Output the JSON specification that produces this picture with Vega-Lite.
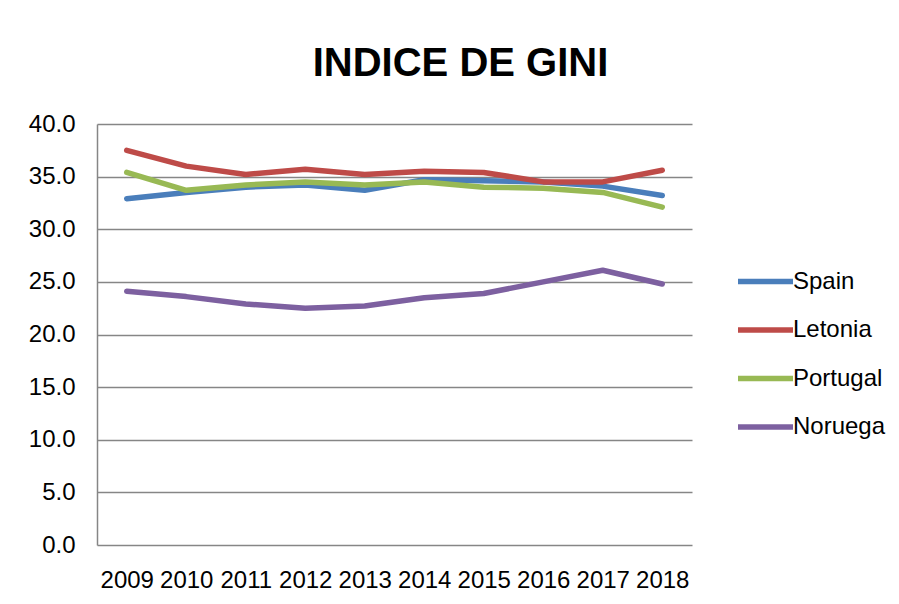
{
  "$schema": "https://vega.github.io/schema/vega-lite/v6.json",
  "width": 595,
  "height": 421,
  "autosize": "none",
  "padding": {"left": 97, "top": 124, "right": 207, "bottom": 59},
  "background": "white",
  "title": {
    "text": "INDICE DE GINI",
    "font": "Liberation Sans",
    "fontSize": 40,
    "fontWeight": "bold",
    "color": "black",
    "anchor": "middle",
    "dx": 66,
    "offset": 28
  },
  "data": {
    "values": [
      {"year": "2009", "country": "Spain", "value": 32.9},
      {"year": "2010", "country": "Spain", "value": 33.5},
      {"year": "2011", "country": "Spain", "value": 34.0},
      {"year": "2012", "country": "Spain", "value": 34.2},
      {"year": "2013", "country": "Spain", "value": 33.7},
      {"year": "2014", "country": "Spain", "value": 34.7},
      {"year": "2015", "country": "Spain", "value": 34.6},
      {"year": "2016", "country": "Spain", "value": 34.5},
      {"year": "2017", "country": "Spain", "value": 34.1},
      {"year": "2018", "country": "Spain", "value": 33.2},
      {"year": "2009", "country": "Letonia", "value": 37.5},
      {"year": "2010", "country": "Letonia", "value": 36.0},
      {"year": "2011", "country": "Letonia", "value": 35.2},
      {"year": "2012", "country": "Letonia", "value": 35.7},
      {"year": "2013", "country": "Letonia", "value": 35.2},
      {"year": "2014", "country": "Letonia", "value": 35.5},
      {"year": "2015", "country": "Letonia", "value": 35.4},
      {"year": "2016", "country": "Letonia", "value": 34.5},
      {"year": "2017", "country": "Letonia", "value": 34.5},
      {"year": "2018", "country": "Letonia", "value": 35.6},
      {"year": "2009", "country": "Portugal", "value": 35.4},
      {"year": "2010", "country": "Portugal", "value": 33.7},
      {"year": "2011", "country": "Portugal", "value": 34.2},
      {"year": "2012", "country": "Portugal", "value": 34.5},
      {"year": "2013", "country": "Portugal", "value": 34.2},
      {"year": "2014", "country": "Portugal", "value": 34.5},
      {"year": "2015", "country": "Portugal", "value": 34.0},
      {"year": "2016", "country": "Portugal", "value": 33.9},
      {"year": "2017", "country": "Portugal", "value": 33.5},
      {"year": "2018", "country": "Portugal", "value": 32.1},
      {"year": "2009", "country": "Noruega", "value": 24.1},
      {"year": "2010", "country": "Noruega", "value": 23.6},
      {"year": "2011", "country": "Noruega", "value": 22.9},
      {"year": "2012", "country": "Noruega", "value": 22.5},
      {"year": "2013", "country": "Noruega", "value": 22.7},
      {"year": "2014", "country": "Noruega", "value": 23.5},
      {"year": "2015", "country": "Noruega", "value": 23.9},
      {"year": "2016", "country": "Noruega", "value": 25.0},
      {"year": "2017", "country": "Noruega", "value": 26.1},
      {"year": "2018", "country": "Noruega", "value": 24.8}
    ]
  },
  "mark": {"type": "line", "strokeWidth": 5.5, "strokeCap": "round", "strokeJoin": "round"},
  "encoding": {
    "x": {
      "field": "year",
      "type": "ordinal",
      "scale": {"type": "point", "padding": 0.5},
      "axis": {
        "title": null,
        "labelAngle": 0,
        "domain": false,
        "ticks": false,
        "grid": false,
        "labelFont": "Liberation Sans",
        "labelFontSize": 24,
        "labelColor": "black",
        "labelPadding": 23
      }
    },
    "y": {
      "field": "value",
      "type": "quantitative",
      "scale": {"domain": [0, 40]},
      "axis": {
        "title": null,
        "values": [0, 5, 10, 15, 20, 25, 30, 35, 40],
        "format": ".1f",
        "ticks": false,
        "domainColor": "#868686",
        "domainWidth": 1.5,
        "gridColor": "#868686",
        "gridWidth": 1.5,
        "labelFont": "Liberation Sans",
        "labelFontSize": 24,
        "labelColor": "black",
        "labelPadding": 22
      }
    },
    "color": {
      "field": "country",
      "type": "nominal",
      "scale": {
        "domain": ["Spain", "Letonia", "Portugal", "Noruega"],
        "range": ["#4A7EBB", "#BE4B48", "#98B954", "#7D60A0"]
      },
      "legend": {
        "title": null,
        "orient": "none",
        "legendX": 638,
        "legendY": 127,
        "padding": 0,
        "symbolType": "stroke",
        "symbolSize": 3025,
        "symbolStrokeWidth": 5.5,
        "labelFont": "Liberation Sans",
        "labelFontSize": 24,
        "labelColor": "black",
        "labelOffset": -3,
        "rowPadding": 5.5
      }
    }
  },
  "config": {
    "view": {"stroke": null}
  }
}
